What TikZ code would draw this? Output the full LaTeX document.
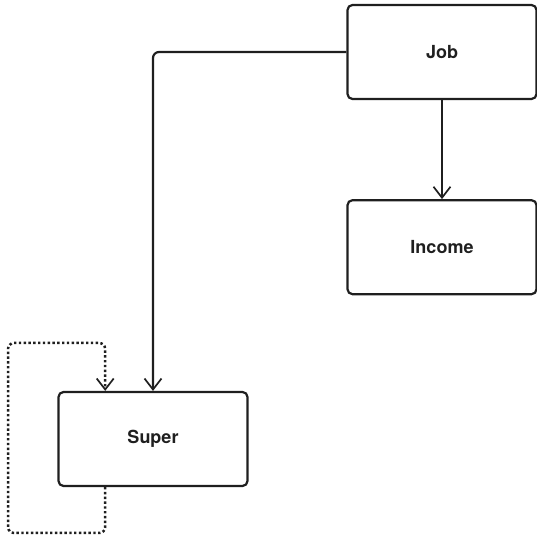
\documentclass[tikz,border=0pt]{standalone}
\usepackage{fontspec}
\setmainfont{TeX Gyre Heros}
\usetikzlibrary{arrows.meta, positioning, calc}
\tikzset{
  box/.style={
    rectangle,
    rounded corners=5pt,
    draw,
    line width=2.2pt,
    align=center,
    minimum width=189pt,
    minimum height=94pt,
    font=\fontsize{18}{22}\selectfont\bfseries
  },
  arrow/.style={-{Straight Barb[length=11pt, width=17pt, line width=1.7pt]}, line width=2.2pt, rounded corners=6pt},
  selfarrow/.style={-{Straight Barb[length=11pt, width=17pt, line width=1.7pt]}, line width=2.5pt, dash pattern=on 2.4pt off 2.4pt, rounded corners=6pt}
}

\begin{document}
\begin{tikzpicture}[x=1pt, y=1pt, node distance=99pt and 0pt, color={black!88}]
\useasboundingbox (0,0) rectangle (537,539);
\node[box] (job) at (442,487) {Job};
\node[box, below=of job] (income) {Income};
\node[box] (super) at (153,100) {Super};

% corners of the loop on Super
\coordinate (superbot) at ($(super.south west)!0.25!(super.south east)$);
\coordinate (supertop) at ($(super.north west)!0.25!(super.north east)$);
\coordinate (loopbottom) at (8,6);
\coordinate (looptop) at (8,196);

\draw[arrow] (job) -- (income);
\draw[arrow] (job.west) -| (super.north);
\draw[selfarrow] (superbot) |- (loopbottom) -- (looptop) -| (supertop);
\end{tikzpicture}
\end{document}
